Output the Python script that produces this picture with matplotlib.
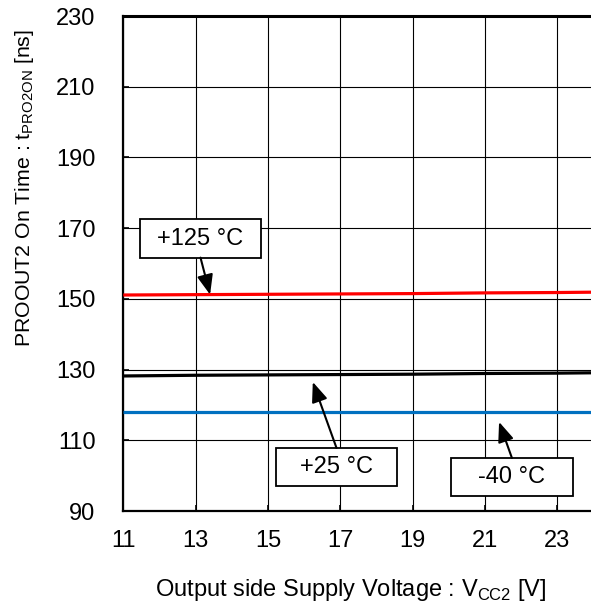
import matplotlib
matplotlib.use("Agg")
import matplotlib.pyplot as plt
from matplotlib.patches import Rectangle

plt.rcParams["font.family"] = ["Liberation Sans", "DejaVu Sans"]
plt.rcParams["mathtext.fontset"] = "custom"
plt.rcParams["mathtext.rm"] = "Liberation Sans"

# Supply voltage sweep and measured on-time per temperature
vcc2 = [11, 13, 15, 17, 19, 21, 23, 24]
t_125 = [151.1, 151.2, 151.3, 151.4, 151.5, 151.7, 151.8, 151.9]
t_25 = [128.2, 128.4, 128.5, 128.6, 128.7, 128.9, 129.0, 129.1]
t_m40 = [118.1, 118.1, 118.1, 118.1, 118.1, 118.1, 118.1, 118.1]

x_ticks = [11, 13, 15, 17, 19, 21, 23]
y_ticks = [90, 110, 130, 150, 170, 190, 210, 230]

labels = ["+125 °C", "+25 °C", "-40 °C"]

FS = 17

fig = plt.figure(figsize=(5.91, 6.08), dpi=100)
ax = fig.add_axes([0.2086, 0.1595, 0.7956, 0.8141])

ax.set_xlim(11, 24)
ax.set_ylim(90, 230)
ax.set_xticks(x_ticks)
ax.set_yticks(y_ticks)
ax.grid(True, color="black", linewidth=0.8)
ax.set_axisbelow(True)

ax.plot(vcc2, t_125, color="#FF0000", linewidth=2.3, solid_capstyle="butt", zorder=3)
ax.plot(vcc2, t_25, color="black", linewidth=2.3, solid_capstyle="butt", zorder=3)
ax.plot(vcc2, t_m40, color="#0070C0", linewidth=2.3, solid_capstyle="butt", zorder=3)

for s in ax.spines.values():
    s.set_linewidth(1.6)
ax.spines["top"].set_linewidth(2.2)

ax.tick_params(axis="both", direction="in", length=4, width=1.2,
               labelsize=FS, colors="black")
ax.tick_params(axis="y", pad=20)
ax.tick_params(axis="x", pad=14)

ax.set_xlabel("Output side Supply Voltage : V$_{\\mathregular{CC2}}$ [V]", fontsize=FS)
ax.set_ylabel("PROOUT2 On Time : t$_{\\mathregular{PRO2ON}}$ [ns]", fontsize=15.3)
ax.xaxis.set_label_coords(0.484, -0.133)
ax.yaxis.set_label_coords(-0.186, 0.653)

# Callout boxes: fixed size, label centred, arrow from box edge to the curve
box_w, box_h = 3.35, 10.8
arrow = dict(arrowstyle="-|>,head_length=0.55,head_width=0.22", mutation_scale=22,
             linewidth=1.5, color="black", shrinkA=0, shrinkB=0)

# (label, box centre, arrow head, arrow leaves from box top?)
notes = [
    (labels[0], (13.135, 167.07), (13.40, 151.2), False),
    (labels[1], (16.895, 102.45), (16.24, 126.5), True),
    (labels[2], (21.745, 99.60), (21.39, 115.2), True),
]
for text, (cx, cy), head, from_top in notes:
    ax.add_patch(Rectangle((cx - box_w / 2, cy - box_h / 2), box_w, box_h,
                           facecolor="white", edgecolor="black", linewidth=1.3,
                           zorder=5))
    ax.text(cx, cy, text, ha="center", va="center", fontsize=FS, zorder=6)
    tail_y = cy + box_h / 2 if from_top else cy - box_h / 2
    ax.annotate("", xy=head, xytext=(cx, tail_y), arrowprops=arrow, zorder=6)

fig.savefig("out.png", dpi=100)
